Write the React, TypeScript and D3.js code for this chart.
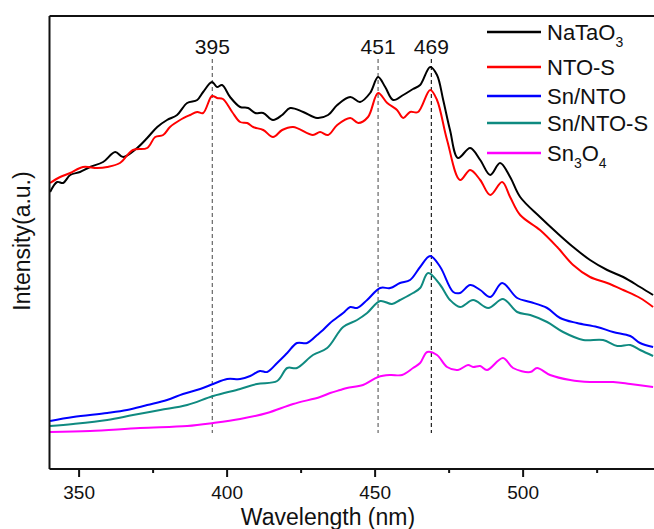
import React, { useEffect, useRef } from "react";
import * as d3 from "d3";

// wavelength (nm), intensity (a.u.)
const naTaO3: [number, number][] = [
  [340.2, 277], [342.6, 287], [344.6, 286], [347.0, 294], [350.3, 297], [353.7, 302],
  [358.1, 307], [362.2, 317], [364.9, 312], [369.6, 321], [373.0, 331], [376.4, 342],
  [379.7, 349], [383.1, 354], [386.5, 366], [389.9, 369], [391.9, 377], [394.9, 387],
  [396.6, 382], [398.3, 384], [401.0, 372], [404.4, 362], [407.1, 361], [409.5, 356],
  [412.2, 356], [415.5, 349], [418.6, 354], [421.3, 361], [425.7, 357], [430.4, 351],
  [434.1, 354], [437.2, 364], [441.6, 372], [444.9, 367], [448.3, 376], [451.0, 392],
  [453.4, 382], [456.1, 369], [459.5, 374], [462.8, 380], [465.2, 384], [468.6, 402],
  [470.9, 394], [473.0, 369], [475.3, 339], [478.0, 311], [482.1, 321], [485.5, 309],
  [488.9, 294], [492.2, 306], [495.6, 292], [499.0, 272], [505.7, 252], [511.5, 236],
  [516.9, 222], [522.6, 209], [528.4, 199], [533.8, 192], [539.5, 182], [543.9, 174],
];

const ntoS: [number, number][] = [
  [340.2, 286], [343.6, 292], [347.0, 296], [351.3, 302], [356.1, 301], [359.5, 302],
  [363.8, 306], [368.2, 319], [373.0, 321], [375.7, 332], [378.4, 334], [380.7, 342],
  [384.1, 349], [387.5, 354], [389.9, 357], [391.9, 356], [394.9, 373], [396.6, 371],
  [398.6, 370], [401.7, 357], [404.4, 347], [406.8, 346], [408.8, 342], [412.2, 339],
  [415.5, 332], [418.6, 339], [422.3, 342], [429.0, 334], [431.4, 337], [434.1, 334],
  [437.2, 344], [441.6, 351], [444.3, 346], [447.6, 352], [451.0, 376], [454.1, 366],
  [457.4, 359], [459.5, 351], [461.8, 357], [464.5, 357], [468.6, 379], [470.9, 369],
  [474.3, 329], [478.7, 289], [482.1, 299], [485.5, 289], [488.9, 274], [492.9, 287],
  [495.6, 272], [499.0, 254], [505.7, 239], [511.5, 222], [516.9, 204], [522.6, 192],
  [528.4, 186], [533.8, 179], [539.5, 171], [543.9, 162],
];

const snNTO: [number, number][] = [
  [340.2, 48], [348.0, 52], [359.5, 56], [366.2, 59], [373.0, 64], [379.7, 69],
  [385.1, 75], [390.9, 80], [395.3, 85], [400.0, 90], [404.4, 90], [407.8, 93],
  [411.1, 98], [413.5, 97], [416.9, 106], [420.3, 116], [423.6, 126], [427.0, 126],
  [430.4, 134], [432.4, 139], [434.8, 146], [439.2, 156], [441.6, 162], [443.9, 161],
  [447.3, 169], [451.7, 181], [455.1, 181], [458.4, 186], [461.8, 189], [465.2, 202],
  [468.6, 213], [472.0, 202], [476.4, 177], [478.7, 176], [482.1, 184], [485.5, 179],
  [488.9, 172], [492.9, 186], [498.0, 171], [502.4, 167], [508.1, 161], [512.5, 151],
  [518.2, 146], [525.0, 142], [530.4, 137], [536.2, 133], [539.5, 126], [543.9, 122],
];

const snNTOS: [number, number][] = [
  [340.2, 43], [348.0, 45], [359.5, 49], [368.2, 54], [377.4, 59], [386.5, 64],
  [395.3, 73], [404.4, 80], [410.1, 85], [416.9, 88], [420.3, 101], [423.6, 101],
  [429.0, 114], [433.8, 121], [439.2, 142], [443.9, 149], [447.3, 156], [451.7, 168],
  [455.7, 165], [458.4, 169], [462.8, 176], [465.2, 181], [467.9, 196], [472.0, 184],
  [475.3, 169], [478.7, 162], [483.1, 169], [488.2, 161], [493.2, 170], [498.0, 157],
  [502.4, 154], [508.1, 147], [513.5, 137], [520.3, 129], [527.0, 129], [531.8, 123],
  [536.2, 124], [539.5, 119], [543.9, 113],
];

const sn3O4: [number, number][] = [
  [340.2, 37], [353.7, 38], [370.6, 41], [386.5, 43], [395.3, 46], [404.4, 50],
  [413.5, 56], [422.3, 65], [431.4, 72], [434.8, 76], [438.2, 79], [440.5, 81],
  [445.9, 84], [451.0, 92], [455.1, 94], [459.1, 94], [462.8, 101], [465.2, 106],
  [467.6, 117], [470.9, 114], [474.3, 102], [478.0, 99], [481.4, 104], [483.1, 102],
  [485.5, 103], [487.8, 99], [493.2, 111], [496.6, 101], [502.4, 97], [504.7, 101],
  [509.1, 94], [515.9, 89], [522.6, 87], [530.4, 87], [536.2, 85], [543.9, 82],
];

const seriesNames = ["NaTaO3", "NTO-S", "Sn/NTO", "Sn/NTO-S", "Sn3O4"];
const seriesData = [naTaO3, ntoS, snNTO, snNTOS, sn3O4];
const xTicks = [350, 400, 450, 500];
const xMinorTicks = [375, 425, 475, 525];
const peaks = [395, 451, 469];

const colors = ["#000000", "#ff0000", "#0000ff", "#0f8a80", "#ff00ff"];
const legendY = [32, 67, 96, 123, 153];
const FONT = "'Liberation Sans', Arial, sans-serif";

const W = 654;
const H = 529;

const App = () => {
  const svgRef = useRef<SVGSVGElement>(null);

  useEffect(() => {
    const svg = d3.select(svgRef.current);
    svg.selectAll("*").remove();

    const left = 49.5;
    const right = 659.3;
    const top = 16;
    const bottom = 469;

    const xScale = d3.scaleLinear().domain([340, 546]).range([left, right]);
    const yScale = d3.scaleLinear().domain([0, 453]).range([bottom, top]);

    svg.append("rect").attr("width", W).attr("height", H).attr("fill", "#ffffff");

    svg
      .append("defs")
      .append("clipPath")
      .attr("id", "plotClip")
      .append("rect")
      .attr("x", left)
      .attr("y", top)
      .attr("width", right - left)
      .attr("height", bottom - top);

    // peak markers
    svg
      .selectAll(".peakLine")
      .data(peaks)
      .join("line")
      .attr("x1", (d) => xScale(d))
      .attr("x2", (d) => xScale(d))
      .attr("y1", yScale(410))
      .attr("y2", yScale(36))
      .attr("stroke", (d, i) => (i === 2 ? "#222" : "#666"))
      .attr("stroke-width", 1.2)
      .attr("stroke-dasharray", "4,3");

    svg
      .selectAll(".peakLabel")
      .data(peaks)
      .join("text")
      .attr("x", (d) => xScale(d))
      .attr("y", 54)
      .attr("text-anchor", "middle")
      .attr("font-family", FONT)
      .attr("font-size", 21)
      .attr("fill", "#111")
      .text((d) => d);

    const line = d3
      .line<[number, number]>()
      .x((d) => xScale(d[0]))
      .y((d) => yScale(d[1]))
      .curve(d3.curveCatmullRom.alpha(0.5));

    svg
      .append("g")
      .attr("clip-path", "url(#plotClip)")
      .selectAll("path")
      .data(seriesData)
      .join("path")
      .attr("d", (d) => line(d))
      .attr("fill", "none")
      .attr("stroke", (d, i) => colors[i])
      .attr("stroke-width", 2)
      .attr("stroke-linejoin", "round");

    // frame
    const frame = svg.append("g").attr("stroke", "#111").attr("stroke-width", 2).attr("fill", "none");
    frame.append("line").attr("x1", left).attr("x2", right).attr("y1", top).attr("y2", top);
    frame.append("line").attr("x1", left).attr("x2", left).attr("y1", top).attr("y2", bottom);
    frame.append("line").attr("x1", left).attr("x2", right).attr("y1", bottom).attr("y2", bottom);

    // x axis ticks
    svg
      .selectAll(".majorTick")
      .data(xTicks)
      .join("line")
      .attr("x1", (d) => xScale(d))
      .attr("x2", (d) => xScale(d))
      .attr("y1", bottom)
      .attr("y2", bottom + 8)
      .attr("stroke", "#111")
      .attr("stroke-width", 2);

    svg
      .selectAll(".minorTick")
      .data(xMinorTicks)
      .join("line")
      .attr("x1", (d) => xScale(d))
      .attr("x2", (d) => xScale(d))
      .attr("y1", bottom)
      .attr("y2", bottom + 4)
      .attr("stroke", "#111")
      .attr("stroke-width", 2);

    svg
      .selectAll(".tickLabel")
      .data(xTicks)
      .join("text")
      .attr("x", (d) => xScale(d))
      .attr("y", 499)
      .attr("text-anchor", "middle")
      .attr("font-family", FONT)
      .attr("font-size", 19)
      .attr("fill", "#111")
      .text((d) => d);

    svg
      .append("text")
      .attr("x", 328)
      .attr("y", 525)
      .attr("text-anchor", "middle")
      .attr("font-family", FONT)
      .attr("font-size", 23)
      .attr("fill", "#111")
      .text("Wavelength (nm)");

    svg
      .append("text")
      .attr("transform", "translate(30,241) rotate(-90)")
      .attr("text-anchor", "middle")
      .attr("font-family", FONT)
      .attr("font-size", 23)
      .attr("fill", "#111")
      .text("Intensity(a.u.)");

    // legend
    const legend = svg.append("g");
    seriesNames.forEach((name, i) => {
      const y = legendY[i];
      legend
        .append("line")
        .attr("x1", 487)
        .attr("x2", 541)
        .attr("y1", y)
        .attr("y2", y)
        .attr("stroke", colors[i])
        .attr("stroke-width", 2.5);

      const text = legend
        .append("text")
        .attr("x", 547)
        .attr("y", y + 7.5)
        .attr("font-family", FONT)
        .attr("font-size", 22)
        .attr("fill", "#111");

      const parts = name.match(/\d+|\D+/g) || [name];
      let shifted = false;
      parts.forEach((p) => {
        const isSub = /^\d+$/.test(p);
        const ts = text.append("tspan").text(p);
        if (isSub) {
          ts.attr("font-size", 14).attr("dy", 7);
          shifted = true;
        } else if (shifted) {
          ts.attr("dy", -7);
          shifted = false;
        }
      });
    });
  }, []);

  return (
    <svg
      ref={svgRef}
      width={W}
      height={H}
      style={{ position: "absolute", left: 0, top: 0, display: "block" }}
    />
  );
};

export default App;
